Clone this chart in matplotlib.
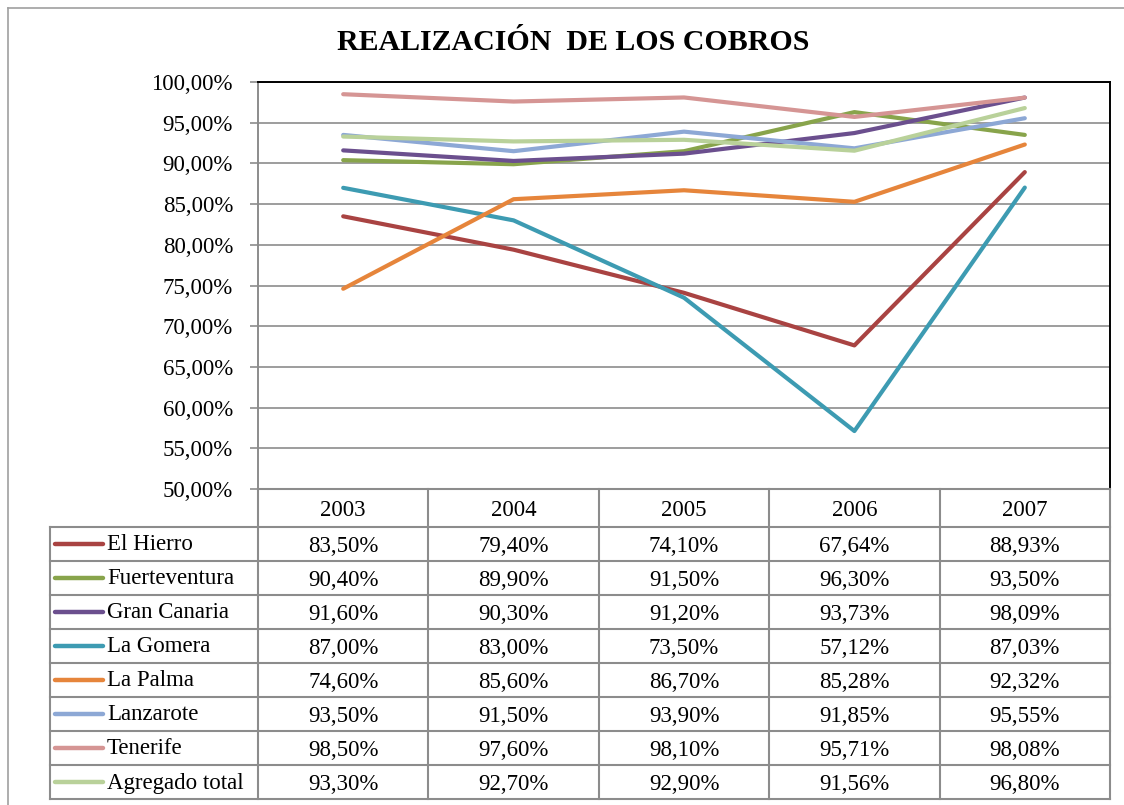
import matplotlib
matplotlib.use("Agg")
import matplotlib.pyplot as plt
from matplotlib.lines import Line2D
from matplotlib.ticker import FuncFormatter, MultipleLocator

plt.rcParams['font.family'] = ['Liberation Serif', 'DejaVu Serif']

years = ["2003", "2004", "2005", "2006", "2007"]
islands = ["El Hierro", "Fuerteventura", "Gran Canaria", "La Gomera",
           "La Palma", "Lanzarote", "Tenerife", "Agregado total"]
el_hierro = [83.50, 79.40, 74.10, 67.64, 88.93]
fuerteventura = [90.40, 89.90, 91.50, 96.30, 93.50]
gran_canaria = [91.60, 90.30, 91.20, 93.73, 98.09]
la_gomera = [87.00, 83.00, 73.50, 57.12, 87.03]
la_palma = [74.60, 85.60, 86.70, 85.28, 92.32]
lanzarote = [93.50, 91.50, 93.90, 91.85, 95.55]
tenerife = [98.50, 97.60, 98.10, 95.71, 98.08]
agregado = [93.30, 92.70, 92.90, 91.56, 96.80]
series = [el_hierro, fuerteventura, gran_canaria, la_gomera,
          la_palma, lanzarote, tenerife, agregado]
colors = ["#A94342", "#88A44B", "#6B4F8E", "#3D9BB2",
          "#E6853B", "#8DA8D5", "#D59594", "#B9D19A"]

W, H = 1124, 805
grey = "#8c8c8c"
fs = 16.5
fig = plt.figure(figsize=(W / 100, H / 100), dpi=100)

# outer frame
fig.add_artist(Line2D([8 / W, 8 / W], [0, 1 - 8 / H], color="#a0a0a0", lw=1.2))
fig.add_artist(Line2D([8 / W, 1], [1 - 8 / H, 1 - 8 / H], color="#a0a0a0", lw=1.2))

fig.text(573 / W, 1 - 42 / H, "REALIZACIÓN  DE LOS COBROS", ha="center", va="center",
         fontsize=21.5, fontweight="bold")

ax = fig.add_axes([258 / W, 1 - 489 / H, 852 / W, 407 / H])
x = list(range(len(years)))
for vals, c in zip(series, colors):
    ax.plot(x, vals, color=c, lw=3, solid_capstyle="round", solid_joinstyle="round")
ax.set_xlim(-0.5, len(years) - 0.5)
ax.set_ylim(50, 100)
ax.yaxis.set_major_locator(MultipleLocator(5))
ax.yaxis.set_major_formatter(FuncFormatter(lambda v, p: f"{v:.2f}".replace(".", ",") + "%"))
ax.set_xticks([])
ax.grid(axis="y", color=grey, lw=1.2)
ax.set_axisbelow(True)
ax.tick_params(axis="y", length=6, width=1.2, color=grey, pad=12, labelsize=fs)
for s in ["top", "right"]:
    ax.spines[s].set_color("black")
    ax.spines[s].set_linewidth(1.4)
ax.spines["left"].set_color(grey)
ax.spines["left"].set_linewidth(1.4)
ax.spines["bottom"].set_visible(False)

# data table
colw = 852 / len(years)
x0 = -0.5 - (258 - 50) / colw
hh, rh = 38, 34
total = hh + rh * len(islands)
tab = fig.add_axes([50 / W, 1 - 799 / H, 1060 / W, 310 / H])
tab.set_xlim(x0, len(years) - 0.5)
tab.set_ylim(total, 0)
tab.axis("off")
lk = dict(color=grey, lw=1.5, clip_on=False)
tab.plot([-0.5, len(years) - 0.5], [0, 0], **lk)
tab.plot([x0, len(years) - 0.5], [hh, hh], **lk)
for i in range(len(islands)):
    y = hh + rh * (i + 1)
    tab.plot([x0, len(years) - 0.5], [y, y], **lk)
tab.plot([x0, x0], [hh, total], **lk)
for k in range(len(years) + 1):
    tab.plot([k - 0.5, k - 0.5], [0, total], **lk)
for j, yr in enumerate(years):
    tab.text(j, hh / 2 + 2, yr, ha="center", va="center", fontsize=fs)
px = 1 / colw
for i, (name, vals, c) in enumerate(zip(islands, series, colors)):
    yc = hh + rh * i + rh / 2
    tab.plot([x0 + 5 * px, x0 + 53 * px], [yc, yc], color=c, lw=3.2, solid_capstyle="round")
    tab.text(x0 + 57 * px, yc + 1, name, ha="left", va="center", fontsize=fs)
    for j, v in enumerate(vals):
        tab.text(j, yc + 2, f"{v:.2f}".replace(".", ",") + "%", ha="center", va="center",
                 fontsize=fs)

fig.savefig("out.png", dpi=100)
